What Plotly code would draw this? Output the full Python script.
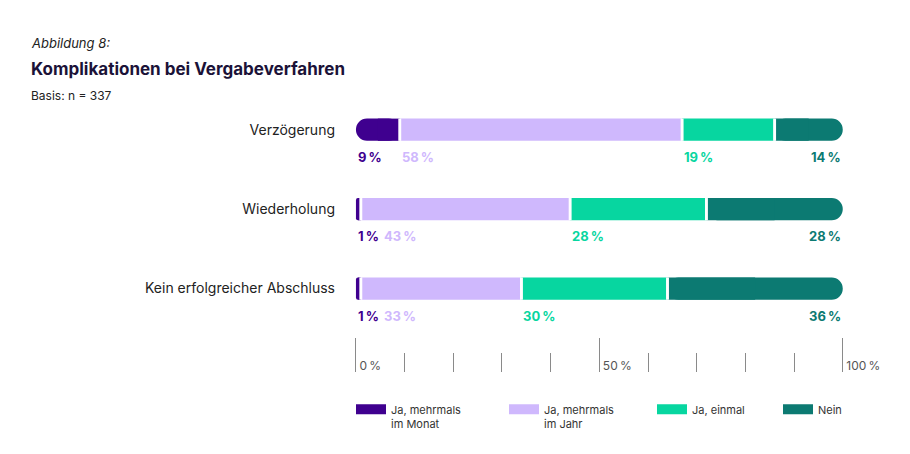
import plotly.graph_objects as go

categories = ["Verzögerung", "Wiederholung", "Kein erfolgreicher Abschluss"]
series_names = ["Ja, mehrmals<br>im Monat", "Ja, mehrmals<br>im Jahr", "Ja, einmal", "Nein"]
monat = [9, 1, 1]
jahr = [58, 43, 33]
einmal = [19, 28, 30]
nein = [14, 28, 36]
tick_vals = [0, 50, 100]
tick_text = ["0\u2009%", "50\u2009%", "100\u2009%"]

colors = ["#3f008f", "#cfb8fd", "#07d6a0", "#0c7a72"]
FONT = "Inter, 'Noto Sans', sans-serif"
GAP = 0.6          # white separator between segments, in % units
LABEL_MIN = 5.3    # min room a percent label needs, in % units

# x range is a bit wider than 0..100 so the edge ticks and "100 %" survive
X_RANGE = [-0.4, 109.5]
PX_PER_UNIT = 4.87
LEFT = 346
PLOT_W = round((X_RANGE[1] - X_RANGE[0]) * PX_PER_UNIT)

series = [monat, jahr, einmal, nein]

# cumulative starts of each segment per row
bases = []
for row in range(len(categories)):
    acc, row_bases = 0, []
    for s in series:
        row_bases.append(acc)
        acc += s[row]
    bases.append(row_bases)

fig = go.Figure()


def seg(values, base, color, radius=None):
    marker = dict(color=color, line=dict(width=0))
    if radius is not None:
        marker["cornerradius"] = radius
    fig.add_trace(go.Bar(
        y=categories, x=values, base=base, orientation="h", width=0.28,
        marker=marker, showlegend=False, hoverinfo="skip",
    ))


# first segment: rounded on the left, square on the right
seg(monat, [0] * 3, colors[0], radius=11)
seg([v / 2 for v in monat], [v / 2 for v in monat], colors[0])
# last segment: rounded on the right, square on the left
last_base = [b[3] for b in bases]
seg(nein, last_base, colors[3], radius=11)
seg([v / 2 for v in nein], last_base, colors[3])
# middle segments
seg(jahr, [b[1] for b in bases], colors[1])
seg(einmal, [b[2] for b in bases], colors[2])
# white separators
for k in (1, 2, 3):
    seg([GAP] * 3, [b[k] - GAP / 2 for b in bases], "white")

# percent labels under the bars
annotations = []
for row, cat in enumerate(categories):
    prev_x = None
    for k, s in enumerate(series):
        val = s[row]
        if k == 3:
            x, anchor = 100, "right"
        else:
            x = bases[row][k]
            if prev_x is not None:
                x = max(x, prev_x + LABEL_MIN)
            anchor = "left"
            prev_x = x
        annotations.append(dict(
            x=x, y=cat, xref="x", yref="y", xanchor=anchor, yanchor="middle",
            yshift=-27, showarrow=False, text=f"<b>{val}\u2009%</b>",
            font=dict(family=FONT, size=13, color=colors[k]),
        ))

# header texts
hx = (21 - LEFT) / PLOT_W
annotations += [
    dict(x=hx, y=1.167, xref="paper", yref="paper", xanchor="left", yanchor="middle",
         showarrow=False, text="<i>Abbildung 8:</i>",
         font=dict(family=FONT, size=13, color="#222222")),
    dict(x=hx, y=1.074, xref="paper", yref="paper", xanchor="left", yanchor="middle",
         showarrow=False, text="<b>Komplikationen bei Vergabeverfahren</b>",
         font=dict(family=FONT, size=17, color="#1b1238")),
    dict(x=hx, y=0.979, xref="paper", yref="paper", xanchor="left", yanchor="middle",
         showarrow=False, text="Basis: n = 337",
         font=dict(family=FONT, size=12, color="#222222")),
]

# legend: one dummy line trace per series, each in its own legend box
legend_x = [343, 496, 644, 770]
legend_layout = {}
for k, name in enumerate(series_names):
    lname = "legend" if k == 0 else f"legend{k + 1}"
    fig.add_trace(go.Scatter(
        x=[None], y=[None], mode="lines", name=name, legend=lname,
        line=dict(color=colors[k], width=10),
    ))
    legend_layout[lname] = dict(
        x=(legend_x[k] - LEFT) / PLOT_W, y=-0.084, xanchor="left", yanchor="top",
        orientation="h", valign="top", bgcolor="rgba(0,0,0,0)",
        font=dict(family=FONT, size=11, color="#333333"),
    )

fig.update_layout(
    width=910, height=454,
    margin=dict(l=LEFT, r=910 - LEFT - PLOT_W, t=82, b=90),
    barmode="overlay",
    plot_bgcolor="white", paper_bgcolor="white",
    font=dict(family=FONT, color="#222222"),
    annotations=annotations,
    xaxis=dict(
        range=X_RANGE, tickvals=tick_vals, ticktext=tick_text,
        ticks="inside", ticklen=34, tickcolor="#8a8a8a", tickwidth=1,
        ticklabelposition="inside right", ticklabelstandoff=-6, ticklabelshift=3,
        tickfont=dict(family=FONT, size=12, color="#555555"),
        minor=dict(dtick=10, ticks="inside", ticklen=19, tickcolor="#8a8a8a", tickwidth=1),
        showgrid=False, zeroline=False, showline=False, fixedrange=True,
    ),
    yaxis=dict(
        type="category", categoryarray=categories, range=[3.05, -0.5],
        showgrid=False, zeroline=False, showline=False, ticks="",
        ticklabelstandoff=18,
        tickfont=dict(family=FONT, size=14, color="#222222"),
    ),
    **legend_layout,
)

fig.write_html("out.html")
